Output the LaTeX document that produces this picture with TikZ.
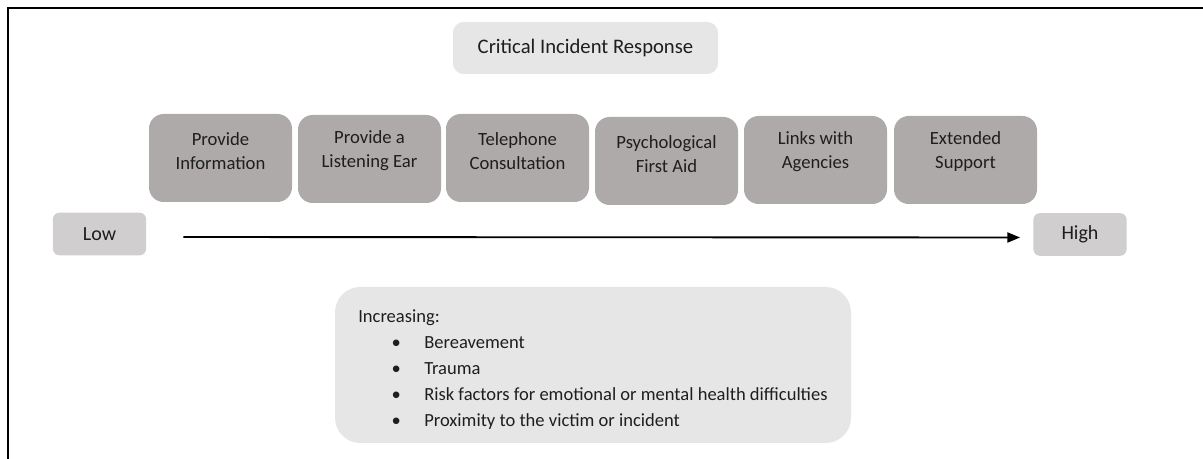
\documentclass[tikz,border=0pt]{standalone}
\usepackage{fontspec}
\setmainfont{Carlito}
\usetikzlibrary{arrows.meta}
\definecolor{darkbox}{HTML}{AEAAAA}
\definecolor{lightbox}{HTML}{E7E6E6}
\definecolor{midbox}{HTML}{D0CECE}
\definecolor{txt}{HTML}{1E1E1E}
\tikzset{
  stagebox/.style={fill=darkbox, draw=none, rounded corners=11pt, minimum width=107.25pt, minimum height=66pt, inner sep=0pt},
  stagetext/.style={align=center, text=txt, font=\fontsize{14pt}{18pt}\selectfont, inner sep=0pt},
  titlebox/.style={fill=lightbox, draw=none, rounded corners=8pt, minimum width=198.75pt, minimum height=39pt, text=txt, font=\fontsize{15.5pt}{18pt}\selectfont},
  endbox/.style={fill=midbox, draw=none, rounded corners=5pt, minimum width=70pt, minimum height=32pt, text=txt, font=\fontsize{15pt}{18pt}\selectfont},
  listbox/.style={fill=lightbox, draw=none, rounded corners=19pt, minimum width=387pt, minimum height=117pt},
  listtext/.style={align=left, text=txt, font=\fontsize{13.9pt}{19.5pt}\selectfont, inner sep=0pt},
  frame/.style={line width=1.5pt, black},
  scalearrow/.style={line width=1.4pt, -{Triangle[length=9.5pt,width=7.5pt]}}
}
\newcommand{\blt}[1]{\hspace*{25pt}\makebox[24.5pt][l]{\textbullet}#1}
\begin{document}
\begin{tikzpicture}[x=0.75pt,y=-0.75pt]
\useasboundingbox (0,0) rectangle (1203,459);
% frame lines
\coordinate (c0) at (8,8);
\coordinate (c1) at (1203,8);
\coordinate (c2) at (8,459);
\draw[frame] (c1) -- (c0) -- (c2);
% title
\node[titlebox] (title) at (585.5,48) {Critical Incident Response};
% stages
\node[stagebox] (s1) at (220.5,158) {};
\node[stagebox] (s2) at (369.5,159) {};
\node[stagebox] (s3) at (517.5,158) {};
\node[stagebox] (s4) at (666.5,161) {};
\node[stagebox] (s5) at (815.5,160) {};
\node[stagebox] (s6) at (965.5,160) {};
\node[stagetext] (t1) at (220.5,151) {Provide\\Information};
\node[stagetext] (t2) at (369.5,151) {Provide a\\Listening Ear};
\node[stagetext] (t3) at (517.5,151) {Telephone\\Consultation};
\node[stagetext] (t4) at (666.5,154.5) {Psychological\\First Aid};
\node[stagetext] (t5) at (815.5,152) {Links with\\Agencies};
\node[stagetext] (t6) at (965.5,152) {Extended\\Support};
% low / high
\node[endbox] (low) at (99.5,234) {Low};
\node[endbox] (high) at (1080,234.5) {High};
\draw[scalearrow, shorten <=27.75pt, shorten >=9.75pt] ([yshift=-2.25pt]low.east) -- ([yshift=-2.25pt]high.west);
% list box
\node[listbox] (lb) at (593,365) {};
\node[listtext, anchor=north west] (lt) at (358,309.5) {Increasing:\\
\blt{Bereavement}\\
\blt{Trauma}\\
\blt{Risk factors for emotional or mental health difficulties}\\
\blt{Proximity to the victim or incident}};
\end{tikzpicture}
\end{document}
